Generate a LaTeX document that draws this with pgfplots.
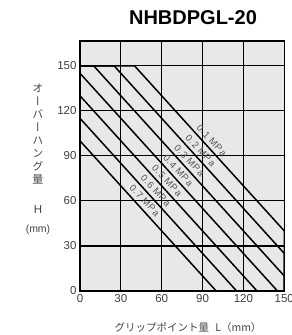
\documentclass[border=0pt]{standalone}
\usepackage{pgfplots}
\pgfplotsset{compat=1.18}
\usepackage{fontspec}
\setmainfont{Liberation Sans}
\newfontfamily\jp{Noto Sans CJK JP}
\newfontfamily\jpv[RawFeature=+vert]{Noto Sans CJK JP}
\newfontfamily\lblfont[LetterSpace=8]{Liberation Sans}
\definecolor{bg}{HTML}{E8E8E8}
\definecolor{lbl}{HTML}{555555}
\definecolor{axlbl}{HTML}{444444}
\begin{document}
\begin{tikzpicture}
\begin{axis}[
  at={(0,0)}, anchor=south west,
  scale only axis, width=204.3pt, height=250pt,
  xmin=0, xmax=150, ymin=0, ymax=166.5,
  xtick={0,30,...,150}, ytick={0,30,...,150},
  grid=major, major grid style={black, line width=1.1pt},
  axis line style={black, line width=1.4pt},
  major tick length=0pt,
  axis background/.style={fill=bg},
  tick label style={font=\fontsize{11.5}{11.5}\selectfont, text=black!75},
  /pgf/number format/assume math mode=true,
]
\addplot[black, line width=1.5pt] coordinates {(0,150) (40,150) (150,40) (150,0)};
\addplot[black, line width=1.5pt] coordinates {(0,150) (25,150) (150,25) (150,0)};
\addplot[black, line width=1.5pt] coordinates {(0,150) (10,150) (150,10) (150,0)};
\addplot[black, line width=1.5pt] coordinates {(0,145) (145,0)};
\addplot[black, line width=1.5pt] coordinates {(0,130) (130,0)};
\addplot[black, line width=1.5pt] coordinates {(0,115) (115,0)};
\addplot[black, line width=1.5pt] coordinates {(0,100) (100,0)};
\tikzset{plab/.style={rotate=-47.5, inner sep=0pt, text=lbl, font=\lblfont\fontsize{9.5}{9.5}\selectfont}}
\node[plab] at (axis cs:96.7,100.3) {0.1 MPa};
\node[plab] at (axis cs:88.5,93.6) {0.2 MPa};
\node[plab] at (axis cs:80.3,87.0) {0.3 MPa};
\node[plab] at (axis cs:72.1,80.3) {0.4 MPa};
\node[plab] at (axis cs:63.9,73.7) {0.5 MPa};
\node[plab] at (axis cs:55.6,67.0) {0.6 MPa};
\node[plab] at (axis cs:47.4,60.4) {0.7 MPa};
\end{axis}
\node[font=\bfseries\fontsize{20}{20}\selectfont] at (113pt,273pt) {NHBDPGL-20};
\node[font=\jp\fontsize{10.5}{10.5}\selectfont, text=axlbl] at (108pt,-37pt) {グリップポイント量\hspace{0.6em}L（mm）};
\node[font=\jpv\fontsize{11}{13}\selectfont, text=axlbl, align=center, inner sep=0pt] at (-42pt,156.5pt)
  {オ\\ー\\バ\\ー\\ハ\\ン\\グ\\量};
\node[font=\fontsize{11.5}{11.5}\selectfont, text=axlbl] at (-42pt,81pt) {H};
\node[font=\fontsize{10.5}{11}\selectfont, text=axlbl] at (-42pt,61pt) {(mm)};
\pgfresetboundingbox
\useasboundingbox (-80pt,-44pt) rectangle (212pt,291pt);
\end{tikzpicture}
\end{document}
